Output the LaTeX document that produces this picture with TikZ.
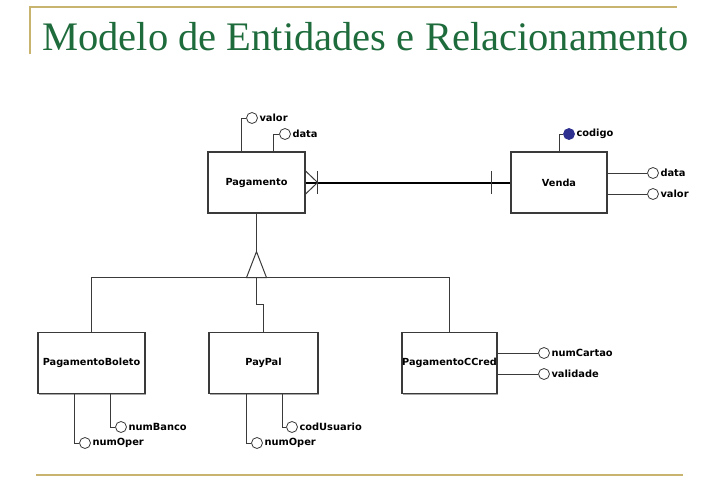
\documentclass[tikz,border=0pt]{standalone}
\usepackage{fontspec}
\setmainfont{Liberation Serif}
\newfontfamily\diagfont{DejaVu Sans}
\usepackage{tikz}
\usetikzlibrary{calc,shadows}
\definecolor{titlegreen}{HTML}{1E6B3C}
\definecolor{rulegold}{HTML}{C8B46E}
\definecolor{keyblue}{HTML}{2E3190}
\definecolor{boxline}{HTML}{3A3A3A}
\tikzset{
  ent/.style={draw=boxline,fill=white,line width=0.9pt,minimum width=#1,minimum height=45.75pt,inner sep=0pt,
    drop shadow={shadow xshift=0.8pt,shadow yshift=-0.8pt,fill=black!35,opacity=1},
    font=\diagfont\bfseries\fontsize{7.3}{8}\selectfont},
  attr/.style={circle,draw=boxline,fill=white,line width=0.6pt,minimum size=8.25pt,inner sep=0pt},
  akey/.style={attr,fill=keyblue,draw=keyblue},
  lbl/.style={font=\diagfont\bfseries\fontsize{7.4}{8}\selectfont,inner sep=1pt,anchor=west},
  lnk/.style={line width=0.75pt,draw=boxline},
  rel/.style={line width=1.5pt,draw=black},
  rulel/.style={draw=rulegold,line width=1.5pt}
}

\begin{document}
\begin{tikzpicture}[x=0.75pt,y=-0.75pt]
  \useasboundingbox (0,0) rectangle (719,490);
  % header
  \draw[rulel] (30,54) -- (30,7) -- (677,7);
  \node[anchor=base west,inner sep=0pt,text=titlegreen,font=\fontsize{30.4}{34}\selectfont] (title) at (42,50) {Modelo de Entidades e Relacionamento};
  \draw[rulel,line width=2.2pt] (36,475) -- (683,475);

  % entities
  \node[ent=72.75pt] (pag) at (256.5,182.5) {Pagamento};
  \node[ent=72pt] (ven) at (559,182.5) {Venda};
  \node[ent=80.25pt] (pb) at (91.5,363) {PagamentoBoleto};
  \node[ent=81.75pt] (pp) at (263.5,363) {PayPal};
  \node[ent=71.25pt] (pc) at (449.5,363) {PagamentoCCred};

  % attributes
  \node[attr] (pv) at (252,118) {}; \node[lbl] (pvt) at (pv.east) {valor};
  \node[attr] (pd) at (285,134) {}; \node[lbl] (pdt) at (pd.east) {data};
  \node[akey] (vc) at (569,134) {}; \node[lbl] (vct) at (vc.east) {codigo};
  \node[attr] (vd) at (653,173) {}; \node[lbl] (vdt) at (vd.east) {data};
  \node[attr] (vv) at (653,194) {}; \node[lbl] (vvt) at (vv.east) {valor};
  \node[attr] (bn) at (121,427) {}; \node[lbl] (bnt) at (bn.east) {numBanco};
  \node[attr] (bo) at (85,443) {};  \node[lbl] (bot) at (bo.east) {numOper};
  \node[attr] (pu) at (292,427) {}; \node[lbl] (put) at (pu.east) {codUsuario};
  \node[attr] (po) at (257,443) {}; \node[lbl] (pot) at (po.east) {numOper};
  \node[attr] (cn) at (544,353) {}; \node[lbl] (cnt) at (cn.east) {numCartao};
  \node[attr] (cv) at (544,374) {}; \node[lbl] (cvt) at (cv.east) {validade};

  \draw[lnk] (pv.west) -| ([xshift=-11.6pt]pag.north);
  \draw[lnk] (pd.west) -| ([xshift=13.1pt]pag.north);
  \draw[lnk] (vc.west) -| (ven.north);
  \draw[lnk] (vd.west) -- (vd.west -| ven.east);
  \draw[lnk] (vv.west) -- (vv.west -| ven.east);
  \draw[lnk] (bn.west) -| ([xshift=13.9pt]pb.south);
  \draw[lnk] (bo.west) -| ([xshift=-13.1pt]pb.south);
  \draw[lnk] (pu.west) -| ([xshift=13.9pt]pp.south);
  \draw[lnk] (po.west) -| ([xshift=-13.1pt]pp.south);
  \draw[lnk] (cn.west) -- (cn.west -| pc.east);
  \draw[lnk] (cv.west) -- (cv.west -| pc.east);

  % relationship Pagamento N -- 1 Venda
  \draw[rel] (pag.east) -- (ven.west);
  \draw[lnk] ([yshift=8.6pt]pag.east) -- ([xshift=9pt]pag.east) -- ([yshift=-8.6pt]pag.east);
  \draw[lnk] ([xshift=9pt,yshift=8.6pt]pag.east) -- ([xshift=9pt,yshift=-8.6pt]pag.east);
  \draw[lnk] ([xshift=-14.25pt,yshift=8.6pt]ven.west) -- ([xshift=-14.25pt,yshift=-8.6pt]ven.west);

  % generalization
  \coordinate (gtip) at ([yshift=-28.5pt]pag.south);
  \coordinate (gbase) at ([yshift=-19.5pt]gtip);
  \draw[lnk] (pag.south) -- (gtip);
  \draw[lnk] (pb.north) |- (gbase) -| (pc.north);
  \draw[lnk] (gbase) |- ($(gbase)!0.5!(pp.north)$) -| (pp.north);
  \draw[lnk,fill=white] (gtip) -- ([xshift=-7.5pt]gbase) -- ([xshift=7.5pt]gbase) -- cycle;
\end{tikzpicture}
\end{document}
